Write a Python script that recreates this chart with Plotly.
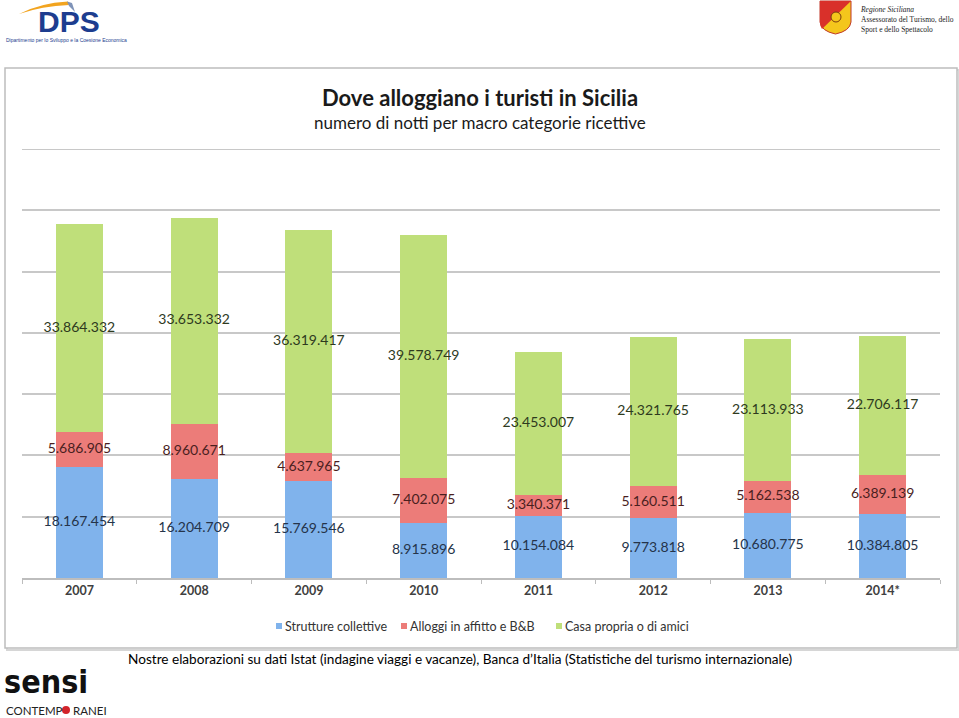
import plotly.graph_objects as go

years = ["2007", "2008", "2009", "2010", "2011", "2012", "2013", "2014*"]
strutture_collettive = [18167454, 16204709, 15769546, 8915896, 10154084, 9773818, 10680775, 10384805]
alloggi_affitto_bb = [5686905, 8960671, 4637965, 7402075, 3340371, 5160511, 5162538, 6389139]
casa_propria_amici = [33864332, 33653332, 36319417, 39578749, 23453007, 24321765, 23113933, 22706117]
series_names = ["Strutture collettive", "Alloggi in affitto e B&B", "Casa propria o di amici"]

W, H = 959, 718
L, R, T, B = 22, 940, 149, 578
Y_MAX = 70e6


def px(x):
    return (x - L) / (R - L)


def py(y):
    return (B - y) / (B - T)


def fmt(v):
    return f"{v:,}".replace(",", ".")


colors = ["#80b3ec", "#ec7c79", "#bfdf7a"]
label_colors = ["#25344a", "#4a1f1f", "#2e3a1e"]
series = [strutture_collettive, alloggi_affitto_bb, casa_propria_amici]

fig = go.Figure()
for name, vals, c in zip(series_names, series, colors):
    fig.add_trace(go.Bar(x=years, y=vals, name=name, marker=dict(color=c, line=dict(width=0)),
                         hoverinfo="skip", showlegend=False))

# data labels at segment midpoints
base = [0] * len(years)
for vals, lc in zip(series, label_colors):
    mids = [b + v / 2 for b, v in zip(base, vals)]
    fig.add_trace(go.Scatter(x=years, y=mids, mode="text", text=[fmt(v) for v in vals],
                             textfont=dict(family="Lato", size=14, color=lc),
                             showlegend=False, hoverinfo="skip"))
    base = [b + v for b, v in zip(base, vals)]

shapes = [
    # shadow of frame
    dict(type="rect", xref="paper", yref="paper", x0=px(7), x1=px(959), y0=py(650), y1=py(70),
         line=dict(color="#d6d6d6", width=2), fillcolor="rgba(0,0,0,0)", layer="below"),
    # chart frame
    dict(type="rect", xref="paper", yref="paper", x0=px(5), x1=px(957), y0=py(648), y1=py(68),
         line=dict(color="#bdbdbd", width=1.5), fillcolor="white", layer="below"),
    # top gridline (edge)
    dict(type="line", xref="paper", yref="y", x0=0, x1=1, y0=Y_MAX, y1=Y_MAX,
         line=dict(color="#c8c8c8", width=2), layer="below"),
    # DPS swoosh
    dict(type="path", xref="paper", yref="paper",
         path=f"M {px(19)} {py(14)} Q {px(40)} {py(3)} {px(68)} {py(1.5)} L {px(69)} {py(5)} Q {px(42)} {py(6)} {px(19)} {py(14)} Z",
         fillcolor="#f2a41f", line=dict(width=0)),
    dict(type="path", xref="paper", yref="paper",
         path=f"M {px(67)} {py(1.5)} L {px(72)} {py(3)} L {px(75)} {py(12)} L {px(69)} {py(6)} Z",
         fillcolor="#7f93b8", line=dict(width=0)),
    # Sicily emblem (yellow lower-right, red upper-left)
    dict(type="path", xref="paper", yref="paper",
         path=f"M {px(820)} {py(1)} L {px(851)} {py(1)} L {px(851)} {py(22)} Q {px(850)} {py(31)} {px(835.5)} {py(34)} Q {px(821)} {py(31)} {px(820)} {py(22)} Z",
         fillcolor="#f4c61c", line=dict(color="#c0392b", width=1)),
    dict(type="path", xref="paper", yref="paper",
         path=f"M {px(820)} {py(1)} L {px(851)} {py(1)} L {px(822)} {py(29)} Q {px(820)} {py(26)} {px(820)} {py(22)} Z",
         fillcolor="#d9302a", line=dict(width=0)),
    dict(type="circle", xref="paper", yref="paper", x0=px(831), x1=px(841), y0=py(22), y1=py(12),
         fillcolor="#f4c61c", line=dict(color="#7a3b10", width=1)),
    # red dot of "CONTEMPORANEI"
    dict(type="circle", xref="paper", yref="paper", x0=px(62), x1=px(70), y0=py(714), y1=py(706),
         fillcolor="#d2232a", line=dict(width=0)),
]

# custom legend: small squares + labels
legend_x = [276, 401, 556]
for lx, name, c in zip(legend_x, series_names, colors):
    shapes.append(dict(type="rect", xref="paper", yref="paper", x0=px(lx), x1=px(lx + 6),
                       y0=py(629), y1=py(623), fillcolor=c, line=dict(width=0)))

annotations = [
    dict(text="<b>Dove alloggiano i turisti in Sicilia</b>", x=px(480), y=py(98), xref="paper", yref="paper",
         showarrow=False, font=dict(family="Lato", size=22, color="#1a1a1a"), xanchor="center", yanchor="middle"),
    dict(text="numero di notti per macro categorie ricettive", x=px(480), y=py(122), xref="paper", yref="paper",
         showarrow=False, font=dict(family="Lato", size=17, color="#1a1a1a"), xanchor="center", yanchor="middle"),
    dict(text="Nostre elaborazioni su dati Istat (indagine viaggi e vacanze), Banca d’Italia (Statistiche del turismo internazionale)",
         x=px(460), y=py(659), xref="paper", yref="paper", showarrow=False,
         font=dict(family="Lato", size=13.6, color="#000000"), xanchor="center", yanchor="middle"),
    dict(text="<b>DPS</b>", x=px(69), y=py(22), xref="paper", yref="paper", showarrow=False,
         font=dict(family="Liberation Sans", size=30, color="#1d3d8f"),
         xanchor="center", yanchor="middle"),
    dict(text="Dipartimento per lo Sviluppo e la Coesione Economica", x=px(4), y=py(40), xref="paper", yref="paper",
         showarrow=False, font=dict(family="Liberation Sans", size=5, color="#1d3d8f"),
         xanchor="left", yanchor="middle"),
    dict(text="<i>Regione Siciliana</i><br>Assessorato del Turismo, dello<br>Sport e dello Spettacolo",
         x=px(858), y=py(3), xref="paper", yref="paper", showarrow=False, align="left",
         font=dict(family="Liberation Serif", size=7.5, color="#222222"), xanchor="left", yanchor="top"),
    dict(text="<b>sensi</b>", x=px(2), y=py(703), xref="paper", yref="paper", showarrow=False,
         font=dict(family="DejaVu Sans Condensed", size=32, color="#111111"),
         xanchor="left", yanchor="bottom"),
    dict(text="CONTEMP", x=px(4), y=py(710), xref="paper", yref="paper",
         showarrow=False, font=dict(family="Lato", size=11.5, color="#222222"), xanchor="left", yanchor="middle"),
    dict(text="RANEI", x=px(71), y=py(710), xref="paper", yref="paper",
         showarrow=False, font=dict(family="Lato", size=11.5, color="#222222"), xanchor="left", yanchor="middle"),
]
for lx, name in zip(legend_x, series_names):
    annotations.append(dict(text=name, x=px(lx + 7), y=py(626), xref="paper", yref="paper", showarrow=False,
                            font=dict(family="Lato", size=12.5, color="#333333"),
                            xanchor="left", yanchor="middle"))

fig.update_layout(
    width=W, height=H,
    margin=dict(l=L, r=W - R, t=T, b=H - B, autoexpand=False),
    paper_bgcolor="white", plot_bgcolor="rgba(0,0,0,0)",
    barmode="stack", bargap=0.59,
    font=dict(family="Lato", color="#333333"),
    showlegend=False,
    shapes=shapes, annotations=annotations,
)
fig.update_xaxes(type="category", showgrid=False, showline=True, linecolor="#bdbdbd", linewidth=2,
                 ticks="outside", tickson="boundaries", ticklen=4, tickcolor="#bdbdbd",
                 tickfont=dict(family="Lato", size=12.5, color="#404040", weight="bold"))
fig.update_yaxes(range=[0, Y_MAX], dtick=10e6, showticklabels=False, showgrid=True, gridcolor="#c8c8c8",
                 gridwidth=2, zeroline=False, showline=False)

fig.write_html("out.html", config={"displayModeBar": False},
               post_script="document.body.style.margin='0';")
